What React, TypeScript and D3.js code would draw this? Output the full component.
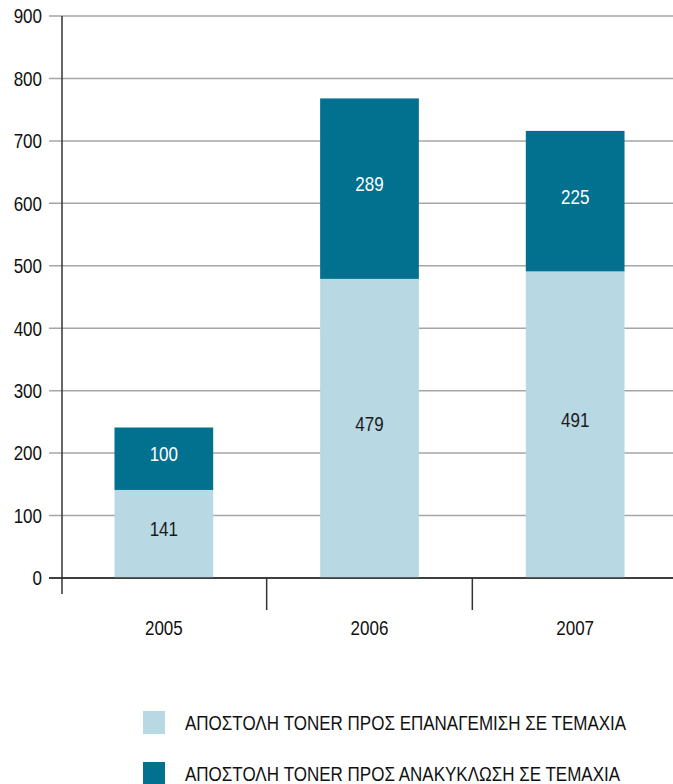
import React from "react";
import * as d3 from "d3";

const years = ["2005", "2006", "2007"];
const refill = [141, 479, 491];
const recycle = [100, 289, 225];
const yTicks = [0, 100, 200, 300, 400, 500, 600, 700, 800, 900];
const seriesNames = [
  "ΑΠΟΣΤΟΛΗ TONER ΠΡΟΣ ΕΠΑΝΑΓΕΜΙΣΗ ΣΕ ΤΕΜΑΧΙΑ",
  "ΑΠΟΣΤΟΛΗ TONER ΠΡΟΣ ΑΝΑΚΥΚΛΩΣΗ ΣΕ ΤΕΜΑΧΙΑ",
];
const colors = ["#b8d8e4", "#02708f"];

const W = 673;
const H = 784;
const FONT = "'Liberation Sans', Arial, sans-serif";
const SX = 0.81;

function NText({ x, y, anchor = "start", fill = "#111", size = 21, children }: any) {
  return (
    <text
      transform={`translate(${x},${y}) scale(${SX},1)`}
      dy="0.35em"
      textAnchor={anchor}
      fontSize={size}
      fill={fill}
    >
      {children}
    </text>
  );
}

export default function App() {
  const y = d3.scaleLinear().domain([0, 900]).range([578, 16]);
  const xSep = d3.scaleBand().domain(years).range([61, 678]).padding(0);
  const x = d3.scaleBand().domain(years).range([61, 678]).paddingInner(0.52).paddingOuter(0.26);

  const rows = years.map((yr, i) => ({ year: yr, refill: refill[i], recycle: recycle[i] }));
  const stack = d3.stack<any>().keys(["refill", "recycle"])(rows);

  return (
    <svg width={W} height={H} style={{ position: "absolute", left: 0, top: 0 }} fontFamily={FONT}>
      <rect width={W} height={H} fill="#fff" />
      {yTicks.map((t) => (
        <g key={t}>
          <line x1={49} x2={W} y1={y(t)} y2={y(t)} stroke={t === 0 ? "#333" : "#a6a6a6"} strokeWidth={1.5} />
          <NText x={42} y={y(t)} anchor="end">
            {t}
          </NText>
        </g>
      ))}
      {stack.map((s, si) =>
        s.map((d, i) => {
          const x0 = x(years[i])!;
          const y0 = y(d[0]);
          const y1 = y(d[1]);
          return (
            <g key={`${si}-${i}`}>
              <rect x={x0} y={y1} width={x.bandwidth()} height={y0 - y1} fill={colors[si]} />
              <NText
                x={x0 + x.bandwidth() / 2}
                y={(y0 + y1) / 2 - 5}
                anchor="middle"
                fill={si === 0 ? "#1a1a1a" : "#ffffff"}
              >
                {d[1] - d[0]}
              </NText>
            </g>
          );
        })
      )}
      <line x1={62} x2={62} y1={16} y2={594} stroke="#333" strokeWidth={1.5} />
      <line x1={49} x2={W} y1={y(0)} y2={y(0)} stroke="#333" strokeWidth={1.5} />
      {years.slice(1).map((yr) => (
        <line key={yr} x1={xSep(yr)!} x2={xSep(yr)!} y1={578} y2={610} stroke="#333" strokeWidth={1.5} />
      ))}
      {years.map((yr) => (
        <NText key={yr} x={xSep(yr)! + xSep.bandwidth() / 2} y={628} anchor="middle">
          {yr}
        </NText>
      ))}
      {seriesNames.map((n, i) => (
        <g key={n} transform={`translate(143, ${711 + i * 51})`}>
          <rect width={22} height={23} fill={colors[i]} />
          <NText x={42} y={11.5}>
            {n}
          </NText>
        </g>
      ))}
    </svg>
  );
}
